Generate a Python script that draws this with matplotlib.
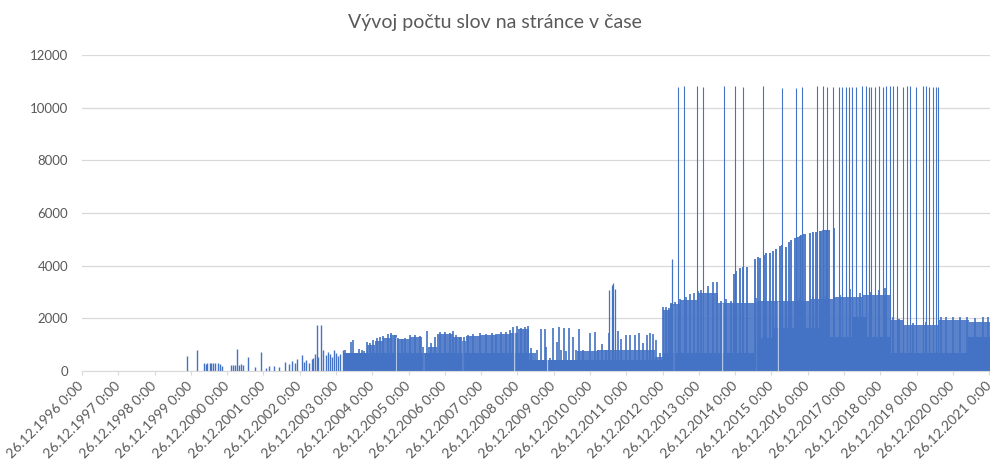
import matplotlib
matplotlib.use("Agg")
import matplotlib.pyplot as plt

plt.rcParams['font.family'] = ['Lato', 'DejaVu Sans']

BLUE = "#4472C4"
GREY = "#595959"

# x values are decimal years
years = list(range(1996, 2022))
tick_labels = [f"26.12.{y} 0:00" for y in years]

# sparse early revisions
early_x = [1999.89, 2000.16, 2000.34, 2000.39, 2000.44, 2000.50, 2000.55, 2000.60, 2000.66, 2000.72,
           2000.78, 2000.85, 2001.08, 2001.14, 2001.20, 2001.25, 2001.30, 2001.36, 2001.42, 2001.56,
           2001.75, 2001.93, 2002.05, 2002.15, 2002.28, 2002.40, 2002.57, 2002.68, 2002.76, 2002.85,
           2002.91, 2003.05, 2003.10, 2003.17, 2003.24, 2003.31, 2003.36, 2003.40, 2003.45, 2003.50,
           2003.58, 2003.63, 2003.70, 2003.77, 2003.82, 2003.86, 2003.92, 2003.98, 2004.04, 2004.10,
           2004.18]
early_vals = [560, 780, 300, 280, 290, 300, 310, 300, 310, 300,
              270, 200, 230, 220, 240, 850, 230, 250, 240, 530,
              150, 720, 120, 180, 200, 150, 330, 250, 370, 300,
              470, 600, 350, 400, 300, 450, 500, 630, 1750, 550,
              1750, 780, 600, 740, 650, 530, 810, 700, 580, 650,
              780]

# solid body of the dense band (step values)
band_x = [2004.20, 2004.83, 2005.05, 2005.27, 2005.46, 2005.66, 2006.02, 2006.35, 2006.51, 2006.76,
          2007.20, 2007.45, 2007.56, 2007.94, 2008.41, 2008.77, 2008.99, 2009.30, 2009.49, 2010.62,
          2011.17, 2012.77, 2012.99, 2013.18, 2013.46, 2013.93, 2014.50, 2015.58, 2017.04, 2017.67,
          2018.50, 2019.24, 2019.60, 2020.56, 2021.44, 2022.00]
band_top = [700, 1000, 1150, 1250, 1350, 1200, 1280, 700, 900, 1400,
            1300, 1150, 1330, 1350, 1400, 1450, 1600, 700, 420, 750,
            800, 550, 2300, 2550, 2700, 2950, 2600, 2650, 2750, 2800,
            2900, 1950, 1750, 1950, 1850, 1850]

# denser lower layer of the band
mid_x = [2004.20, 2009.30, 2012.99, 2015.58, 2016.01, 2017.50, 2018.22, 2018.61, 2019.24, 2021.40, 2022.00]
mid_vals = [700, 420, 700, 1250, 1630, 1300, 2060, 1300, 670, 1300, 1300]

# ragged tops of the band (single revisions)
rev_x = [2004.22, 2004.29, 2004.41, 2004.45, 2004.55, 2004.62, 2004.69, 2004.75, 2004.84, 2004.91,
         2005.00, 2005.10, 2005.19, 2005.28, 2005.42, 2005.51, 2005.60, 2005.69, 2005.79, 2005.88,
         2006.02, 2006.15, 2006.29, 2006.38, 2006.49, 2006.59, 2006.70, 2006.84, 2006.98, 2007.12,
         2007.21, 2007.30, 2007.41, 2007.50, 2007.62, 2007.76, 2007.94, 2008.13, 2008.27, 2008.40,
         2008.54, 2008.68, 2008.79, 2008.86, 2008.96, 2009.09, 2009.18, 2009.28, 2009.37, 2009.51,
         2009.64, 2009.73, 2009.78, 2009.87, 2009.96, 2010.06, 2010.13, 2010.19, 2010.27, 2010.33,
         2010.40, 2010.51, 2010.61, 2010.68, 2010.79, 2010.97, 2011.11, 2011.20, 2011.32, 2011.43,
         2011.51, 2011.76, 2011.85, 2011.98, 2012.08, 2012.21, 2012.33, 2012.44, 2012.54, 2012.63,
         2012.72, 2012.81, 2012.90, 2012.99, 2013.09, 2013.16, 2013.22, 2013.32, 2013.47, 2013.64,
         2013.75, 2013.84, 2013.96, 2014.05, 2014.23, 2014.37, 2014.48, 2014.60, 2014.74, 2014.88,
         2015.57, 2015.93, 2016.39, 2016.76, 2017.13, 2017.49, 2017.86, 2018.14, 2018.41, 2018.69,
         2018.96, 2019.10, 2019.33, 2019.51, 2019.88, 2020.25, 2020.66, 2020.80, 2020.98, 2021.17,
         2021.37, 2021.58, 2021.81, 2021.95]
rev_vals = [800, 540, 1110, 1180, 670, 820, 800, 770, 1110, 1050,
            1180, 1240, 1280, 1330, 1410, 1430, 1370, 1240, 1200, 1240,
            1370, 1370, 1330, 920, 1530, 1050, 1300, 1500, 1500, 1460,
            1530, 1370, 1300, 1280, 1370, 1410, 1430, 1410, 1430, 1410,
            1500, 1500, 1560, 1690, 1710, 1620, 1660, 1710, 860, 800,
            1580, 1580, 920, 480, 1620, 1120, 1690, 810, 1620, 750,
            1620, 1300, 810, 1580, 810, 1430, 1500, 810, 1030, 810,
            1430, 1530, 1200, 1370, 1370, 1370, 1430, 1050, 1370, 1430,
            1400, 1180, 670, 2440, 2420, 2380, 2570, 2630, 2720, 2800,
            2930, 2950, 3050, 3080, 3210, 3390, 3390, 2670, 2720, 2670,
            2760, 2700, 2670, 2760, 2820, 2850, 2890, 3100, 2950, 3010,
            3080, 3140, 2040, 1960, 1810, 1870, 2060, 2060, 2060, 2060,
            2060, 2000, 2040, 2060]

# light gaps inside the band
gap_x = [2005.63, 2006.38, 2007.48, 2008.90, 2009.80, 2013.30, 2014.62, 2015.55, 2016.15]
gap_vals = [1300, 900, 1150, 1500, 700, 2500, 2600, 2650, 2650]

# single revisions standing above the band
spike_x = [2011.52, 2011.58, 2011.63, 2011.67, 2013.24]
spike_vals = [3070, 3280, 3350, 3100, 4240]

# the growing tall layer 2015-2017
tall_x = [2014.94, 2015.01, 2015.11, 2015.20, 2015.31, 2015.52, 2015.61, 2015.68, 2015.77, 2015.84,
          2015.93, 2016.02, 2016.12, 2016.21, 2016.28, 2016.39, 2016.46, 2016.53, 2016.62, 2016.71,
          2016.76, 2016.81, 2016.85, 2016.90, 2017.04, 2017.13, 2017.22, 2017.31, 2017.35, 2017.39,
          2017.43, 2017.48, 2017.51, 2017.56, 2017.72]
tall_vals = [3700, 3800, 3900, 3950, 3950, 4240, 4320, 4280, 4410, 4470,
             4490, 4570, 4620, 4750, 4790, 4700, 4910, 4980, 5040, 5100,
             5130, 5170, 5190, 5210, 5230, 5260, 5290, 5320, 5330, 5360,
             5360, 5360, 5360, 5360, 5420]

# revisions near 10800 words
peak_x = [2013.41, 2013.56, 2013.93, 2014.10, 2014.67, 2014.98, 2015.20, 2015.76, 2016.27, 2016.66,
          2016.83, 2017.25, 2017.40, 2017.51, 2017.68, 2017.85, 2017.94, 2018.05, 2018.13, 2018.21,
          2018.31, 2018.47, 2018.58, 2018.67, 2018.74, 2018.83, 2018.95, 2019.05, 2019.15, 2019.24,
          2019.33, 2019.43, 2019.62, 2019.71, 2019.80, 2019.97, 2020.16, 2020.25, 2020.32, 2020.43,
          2020.51, 2020.58]
peak_vals = [10780, 10820, 10830, 10790, 10820, 10830, 10780, 10830, 10750, 10760,
             10770, 10840, 10820, 10800, 10780, 10790, 10790, 10800, 10800, 10790,
             10800, 10830, 10820, 10790, 10780, 10800, 10810, 10800, 10810, 10820,
             10810, 10830, 10800, 10830, 10820, 10800, 10830, 10810, 10790, 10800,
             10790, 10790]

fig = plt.figure(figsize=(9.9, 4.61), dpi=100)
ax = fig.add_axes([0.0828, 0.1952, 0.917, 0.6855])

ax.fill_between(band_x, band_top, step="post", color=BLUE, alpha=0.88, lw=0)
ax.fill_between(mid_x, mid_vals, step="post", color=BLUE, lw=0)
ax.vlines(gap_x, 0, gap_vals, color="white", lw=1.0, alpha=0.6)
ax.vlines(early_x, 0, early_vals, color=BLUE, lw=1.0)
ax.vlines(rev_x, 0, rev_vals, color=BLUE, lw=1.2)
ax.vlines(spike_x, 0, spike_vals, color=BLUE, lw=0.9)
ax.vlines(tall_x, 0, tall_vals, color=BLUE, lw=1.3)
ax.vlines(peak_x, 0, peak_vals, color=BLUE, lw=0.8)

ax.set_xlim(years[0] + 359 / 365, 2022.0)
ax.set_ylim(0, 12000)
ax.set_yticks(range(0, 12001, 2000))
ax.set_xticks([y + 359 / 365 for y in years])
ax.set_xticklabels(tick_labels, rotation=45, ha="right", va="center", rotation_mode="anchor")

ax.grid(axis="y", color="#d9d9d9", lw=0.9)
ax.set_axisbelow(True)
for s in ["top", "left", "right"]:
    ax.spines[s].set_visible(False)
ax.spines["bottom"].set_color("#d9d9d9")
ax.tick_params(axis="y", length=0, pad=10, labelsize=9.5, labelcolor=GREY)
ax.tick_params(axis="x", length=3, color="#d9d9d9", labelsize=10, labelcolor=GREY, pad=6)

fig.text(0.5, 0.952, "Vývoj počtu slov na stránce v čase", ha="center", va="center",
         fontsize=14, color=GREY)

fig.savefig("out.png", dpi=100)
